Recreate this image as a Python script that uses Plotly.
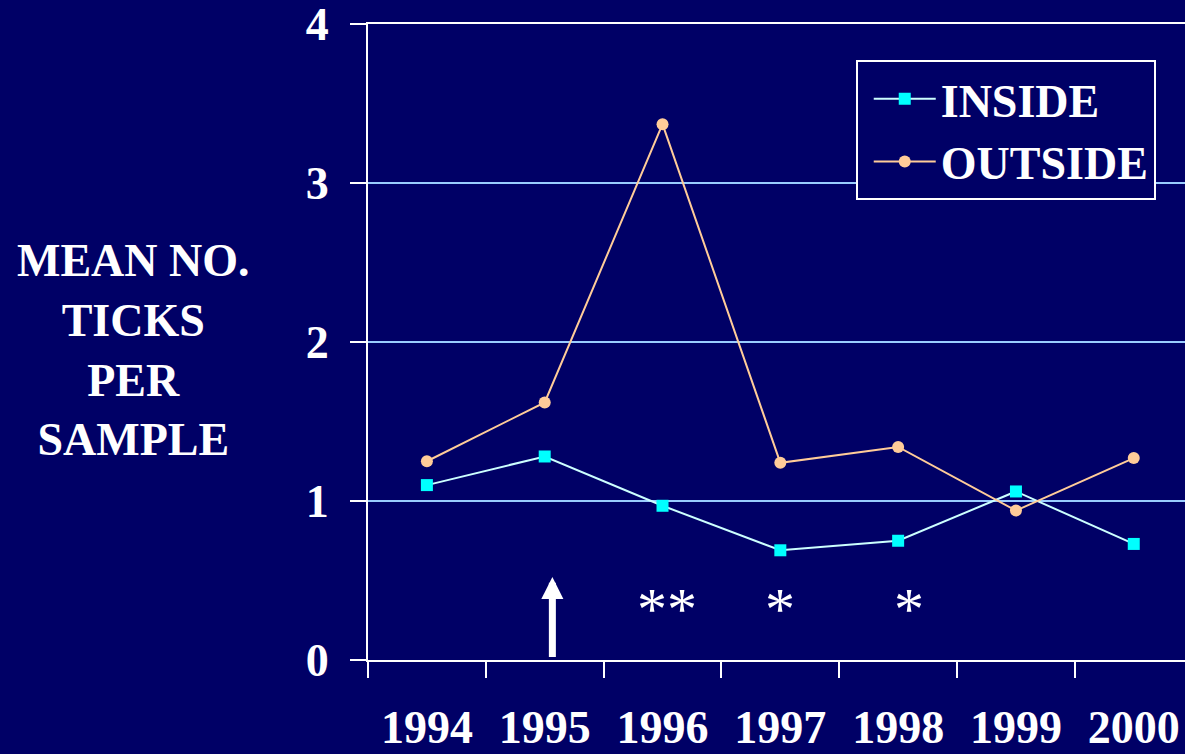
import plotly.graph_objects as go

years = ["1994", "1995", "1996", "1997", "1998", "1999", "2000"]
inside = [1.10, 1.28, 0.97, 0.69, 0.75, 1.06, 0.73]
outside = [1.25, 1.62, 3.37, 1.24, 1.34, 0.94, 1.27]

y_title = "MEAN NO.<br>TICKS<br>PER<br>SAMPLE"
star_labels = ["**", "*", "*"]
star_x = [2.04, 3.0, 4.09]
star_y = 0.32

BG = "#000066"
FONT = "Liberation Serif, Times New Roman, serif"

fig = go.Figure()
fig.add_trace(go.Scatter(
    x=years, y=inside, name="INSIDE", mode="lines+markers",
    line=dict(color="#CCFFFF", width=2),
    marker=dict(symbol="square", size=12, color="#00FFFF"),
))
fig.add_trace(go.Scatter(
    x=years, y=outside, name="OUTSIDE", mode="lines+markers",
    line=dict(color="#FFCC99", width=2),
    marker=dict(symbol="circle", size=12, color="#FFCC99"),
))

# asterisks
for lab, sx in zip(star_labels, star_x):
    fig.add_annotation(x=sx, y=star_y, xref="x", yref="y", text=lab, showarrow=False,
                       font=dict(family=FONT, size=60, color="white"))

# arrow
fig.add_annotation(x=1.065, y=0.522, ax=1.065, ay=0.01, xref="x", yref="y",
                   axref="x", ayref="y", text="", showarrow=True,
                   arrowhead=2, arrowsize=0.63, arrowwidth=7, arrowcolor="white")

# y-axis title
fig.add_annotation(x=(133 - 368) / 817, y=(660 - 350) / 636, xref="paper", yref="paper",
                   text=y_title, showarrow=False, xanchor="center", yanchor="middle",
                   font=dict(family=FONT, size=46, color="white", weight="bold"),
                   align="center")

fig.update_layout(
    width=1185, height=754,
    paper_bgcolor=BG, plot_bgcolor=BG,
    margin=dict(l=368, r=0, t=24, b=94),
    font=dict(family=FONT, size=46, color="white"),
    showlegend=True,
    legend=dict(x=0.597, y=0.943, xanchor="left", yanchor="top",
                bgcolor=BG, bordercolor="white", borderwidth=2,
                indentation=11, itemwidth=62, tracegroupgap=0,
                font=dict(family=FONT, size=46, color="white", weight="bold")),
    xaxis=dict(type="category", range=[-0.5, 6.435], showgrid=False,
               showline=True, linecolor="white", linewidth=2, mirror=True,
               ticks="outside", tickson="boundaries", ticklen=16, tickwidth=2,
               tickcolor="white", zeroline=False, ticklabelstandoff=26,
               ticklabeloverflow="allow", automargin=False,
               tickfont=dict(family=FONT, size=46, color="white", weight="bold")),
    yaxis=dict(range=[0, 4], tickvals=[0, 1, 2, 3, 4], showgrid=True,
               gridcolor="#99CCFF", gridwidth=2,
               showline=True, linecolor="white", linewidth=2,
               ticks="outside", ticklen=16, tickwidth=2, tickcolor="white",
               zeroline=False, ticklabelstandoff=12, ticklabeloverflow="allow",
               automargin=False,
               tickfont=dict(family=FONT, size=46, color="white", weight="bold")),
)

fig.write_html("out.html", config={"displayModeBar": False},
               post_script="document.body.style.margin='0';document.body.style.background='#000066';")
